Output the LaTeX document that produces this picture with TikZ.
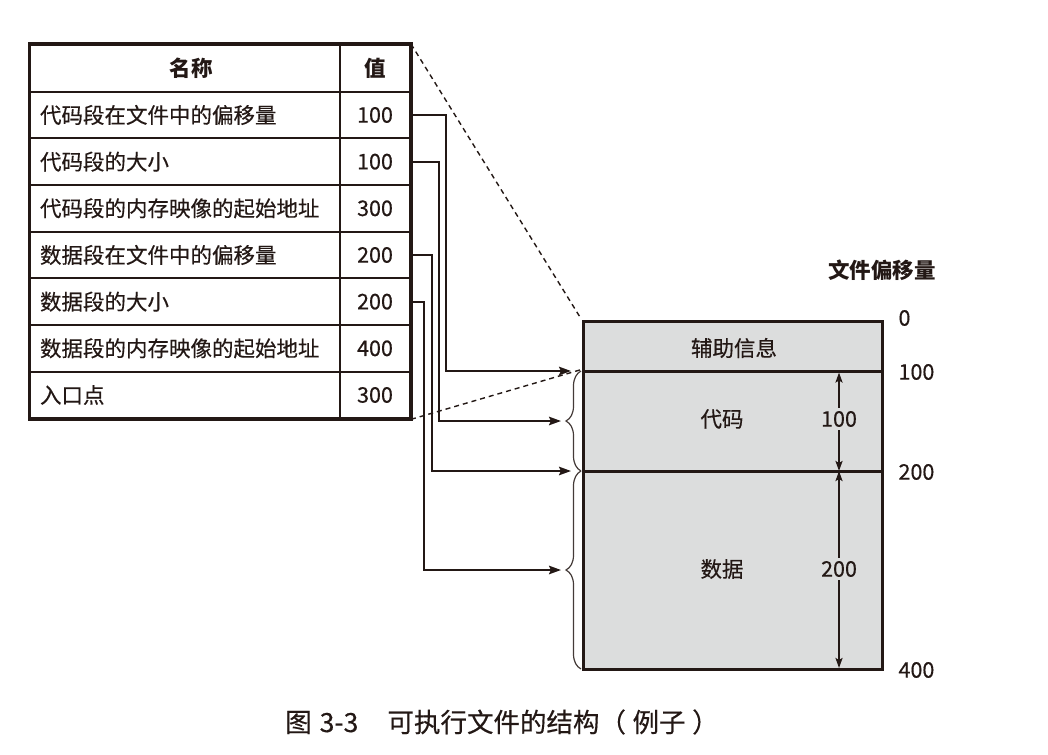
\documentclass[tikz,border=0pt]{standalone}
\usepackage{fontspec}
\setmainfont{Noto Sans CJK SC}[UprightFeatures={FakeBold=0.4}]
\usetikzlibrary{arrows.meta,decorations.pathreplacing}
\definecolor{ink}{HTML}{231815}
\definecolor{boxgray}{HTML}{DCDDDD}
\begin{document}
\begin{tikzpicture}[x=1pt,y=-1pt,
  every node/.style={text=ink, font=\fontsize{21.5}{24}\selectfont},
  namecell/.style={draw=ink, line width=2pt, minimum height=46.67pt, text width=290pt, inner xsep=10pt, inner ysep=0pt, align=left},
  headname/.style={namecell, align=center, font=\fontsize{21.5}{24}\selectfont\bfseries},
  valcell/.style={draw=ink, line width=2pt, minimum height=46.67pt, minimum width=70pt, inner sep=0pt},
  headval/.style={valcell, font=\fontsize{21.5}{24}\selectfont\bfseries},
  seg/.style={draw=ink, fill=boxgray, line width=3pt, minimum width=299pt, inner sep=0pt},
  conn/.style={draw=ink, line width=2pt, -{Stealth[length=12pt,width=8.5pt,inset=2pt]}},
  dimtip/.style={draw=ink, line width=2pt, -{Stealth[length=10pt,width=7pt,inset=2pt]}},
  dimlabel/.style={inner xsep=0pt, inner ysep=3pt},
  dashline/.style={draw=ink, line width=1.4pt, dash pattern=on 5pt off 4pt},
  bracestyle/.style={draw=ink!85, line width=1.2pt, decorate, decoration={brace, mirror, amplitude=15pt}},
  offs/.style={anchor=west}
]
\useasboundingbox (0,0) rectangle (1048,754);

% table
\node[headname] (h1) at (185,68.33) {\hspace*{12pt}名称};
\node[headval]  (hv) at (375,68.33) {值};
\node[namecell] (n1) at (185,115)    {代码段在文件中的偏移量};
\node[valcell]  (v1) at (375,115)    {100};
\node[namecell] (n2) at (185,161.67) {代码段的大小};
\node[valcell]  (v2) at (375,161.67) {100};
\node[namecell] (n3) at (185,208.33) {代码段的内存映像的起始地址};
\node[valcell]  (v3) at (375,208.33) {300};
\node[namecell] (n4) at (185,255)    {数据段在文件中的偏移量};
\node[valcell]  (v4) at (375,255)    {200};
\node[namecell] (n5) at (185,301.67) {数据段的大小};
\node[valcell]  (v5) at (375,301.67) {200};
\node[namecell] (n6) at (185,348.33) {数据段的内存映像的起始地址};
\node[valcell]  (v6) at (375,348.33) {400};
\node[namecell] (n7) at (185,395)    {入口点};
\node[valcell]  (v7) at (375,395)    {300};
\draw[ink, line width=3pt] (h1.north west) rectangle (v7.south east);

% file layout
\node[seg, minimum height=50pt]  (info) at (732.5,346) {};
\node[seg, minimum height=100pt] (code) at (732.5,421) {};
\node[seg, minimum height=198pt] (data) at (732.5,570) {};
\node (infot) at (734,348) {辅助信息};
\node (codet) at (722,419) {代码};
\node (datat) at (722,569) {数据};

% size arrows
\coordinate (d1) at (839,372.5);
\coordinate (d2) at (839,471);
\coordinate (d3) at (839,668);
\node[dimlabel] (s1) at (839,419) {100};
\node[dimlabel] (s2) at (839,569) {200};
\draw[dimtip] (s1.north) -- (d1);
\draw[dimtip] (s1.south) -- (d2);
\draw[dimtip] (s2.north) -- (d2);
\draw[dimtip] (s2.south) -- (d3);

% offsets
\node[font=\fontsize{21.5}{24}\selectfont\bfseries] (otitle) at (882,270) {文件偏移量};
\node[offs] (o0) at (895,318) {0};
\node[offs] (o1) at (895,372) {100};
\node[offs] (o2) at (895,472) {200};
\node[offs] (o4) at (895,670) {400};

% braces
\coordinate (b1) at (581,371);
\coordinate (b2) at (581,471);
\coordinate (b3) at (581,669);
\draw[bracestyle] (b1) -- (b2);
\draw[bracestyle] (b2) -- (b3);

% dashed zoom lines
\draw[dashline] (hv.north east) -- (info.north west);
\draw[dashline] (v7.south east) -- (code.north west);

% connectors
\coordinate (t1) at (571,371);
\coordinate (t2) at (561,421);
\coordinate (t3) at (571,471);
\coordinate (t4) at (561,570);
\draw[conn] (v1.east) -- ++(35,0) |- (t1);
\draw[conn] (v2.east) -- ++(28,0) |- (t2);
\draw[conn] (v4.east) -- ++(21,0) |- (t3);
\draw[conn] (v5.east) -- ++(13,0) |- (t4);

% caption
\node (cap) at (502,722) {\fontsize{26.5}{30}\selectfont 图\hspace{0.3em}3-3\hspace{1.1em}可执行文件的结构（\hspace{0.25em}例子\hspace{0.25em}）};
\end{tikzpicture}
\end{document}
